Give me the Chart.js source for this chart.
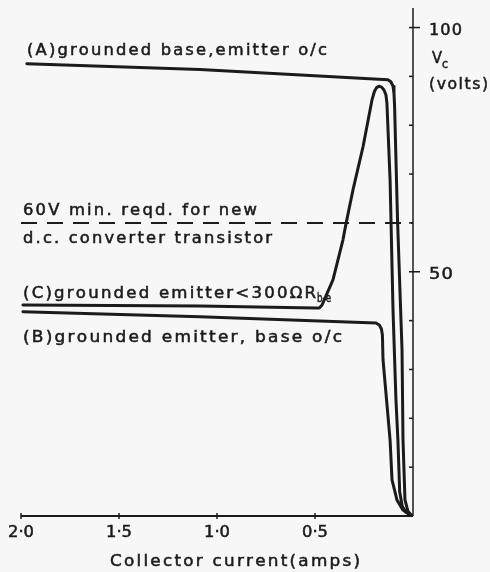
<!DOCTYPE html>
<html>
<head>
<meta charset="utf-8">
<script src="https://cdn.jsdelivr.net/npm/chart.js@4"></script>
<style>
  html, body { margin: 0; padding: 0; background: #f7f7f7; }
</style>
</head>
<body>
<canvas id="chart" width="490" height="572"></canvas>
<script>
// collector current (amps) vs collector voltage (volts)
const currentA = [1.97, 1.087, 0.128, 0.113, 0.102, 0.097, 0.094, 0.079, 0.056, 0.051, 0.041, 0.026, 0.012, 0];
const voltageA = [92.6, 91.4, 89.3, 88.9, 88.0, 86.5, 84.0, 60.7, 34.0, 15.6, 3.3, 1.0, 0.3, 0];

const currentB = [1.99, 1.087, 0.189, 0.172, 0.161, 0.156, 0.153, 0.117, 0.107, 0.082, 0.051, 0.015, 0];
const voltageB = [41.8, 40.8, 39.5, 39.1, 38.3, 37.0, 32.0, 15.6, 7.4, 3.3, 1.2, 0.2, 0];

const currentC = [1.99, 1.087, 0.5, 0.478, 0.464, 0.45, 0.408, 0.357, 0.342, 0.306, 0.255, 0.209, 0.197, 0.186,
  0.174, 0.16, 0.148, 0.138, 0.133, 0.117, 0.102, 0.087, 0.077, 0.068, 0.055, 0.036, 0.012, 0];
const voltageC = [43.2, 43.0, 42.6, 42.6, 43.2, 44.5, 48.4, 56.6, 59.8, 66.8, 75.6, 85.2, 86.9, 87.7,
  88.0, 87.8, 87.2, 86.2, 84.5, 68.9, 42.2, 23.8, 15.6, 5.0, 2.0, 0.8, 0.2, 0];

const minVoltage = 60; // dashed requirement line

const xTicks = [2.0, 1.5, 1.0, 0.5];
const xTickLabels = ["2·0", "1·5", "1·0", "0·5"];
const yMinorTicks = [10, 20, 30, 40, 50, 60, 70, 80, 90, 100];
const yLabelTicks = [100, 50];

const ink = "#1b1b1b";
const font = "DejaVu Sans";

function pts(xs, ys) {
  return xs.map((x, i) => ({ x: x, y: ys[i] }));
}

// letter-spaced text, squeezed or stretched to the given width
function fitText(ctx, text, x, y, width, gap) {
  const chars = [...text];
  const widths = chars.map((c) => ctx.measureText(c).width);
  const natural = widths.reduce((s, w) => s + w, 0) + gap * (chars.length - 1);
  ctx.save();
  ctx.translate(x, y);
  ctx.scale(width / natural, 1);
  let cx = 0;
  chars.forEach((c, i) => {
    ctx.fillText(c, cx, 0);
    ctx.strokeText(c, cx, 0);
    cx += widths[i] + gap;
  });
  ctx.restore();
}

const notes = [
  { text: "(A)grounded base,emitter o/c", x: 27, y: 55, w: 300 },
  { text: "60V min. reqd. for new", x: 23, y: 215, w: 234 },
  { text: "d.c. converter transistor", x: 23, y: 243, w: 249 },
  { text: "(C)grounded emitter<300ΩR", x: 23, y: 298, w: 293 },
  { text: "(B)grounded emitter, base o/c", x: 23, y: 342, w: 319 },
];

const axesPlugin = {
  id: "axesPlugin",
  afterDatasetsDraw(chart) {
    const ctx = chart.ctx;
    const xs = chart.scales.x;
    const ys = chart.scales.y;
    const x0 = xs.getPixelForValue(0);
    const y0 = ys.getPixelForValue(0);
    ctx.save();
    ctx.strokeStyle = ink;
    ctx.fillStyle = ink;

    // x axis
    ctx.lineWidth = 2;
    ctx.beginPath();
    ctx.moveTo(xs.getPixelForValue(2.0), y0);
    ctx.lineTo(x0, y0);
    ctx.stroke();
    ctx.lineWidth = 1.5;
    xTicks.forEach((v) => {
      const px = xs.getPixelForValue(v);
      ctx.beginPath();
      ctx.moveTo(px, y0 - 3);
      ctx.lineTo(px, y0 + 3);
      ctx.stroke();
    });

    // y axis on the right
    ctx.beginPath();
    ctx.moveTo(x0, y0);
    ctx.lineTo(x0, ys.getPixelForValue(ys.max));
    ctx.stroke();
    yMinorTicks.forEach((v) => {
      const py = ys.getPixelForValue(v);
      const major = yLabelTicks.includes(v);
      ctx.beginPath();
      ctx.moveTo(x0 - 4, py);
      ctx.lineTo(major ? x0 + 7 : x0, py);
      ctx.stroke();
    });

    ctx.textBaseline = "alphabetic";
    ctx.textAlign = "left";
    ctx.lineWidth = 0.5;
    ctx.font = "15px " + font;
    xTicks.forEach((v, i) => {
      fitText(ctx, xTickLabels[i], xs.getPixelForValue(v) - 13, 537, 26, 0);
    });
    fitText(ctx, "Collector current(amps)", 110, 566, 250, 2);

    yLabelTicks.forEach((v) => {
      const py = ys.getPixelForValue(v);
      fitText(ctx, String(v), x0 + 16, py + 7, v === 100 ? 33 : 24, 1);
    });
    fitText(ctx, "V", 432, 63, 10, 0);
    fitText(ctx, "(volts)", 429, 89, 59, 1.5);

    notes.forEach((n) => fitText(ctx, n.text, n.x, n.y, n.w, 2));

    ctx.font = "12px " + font;
    fitText(ctx, "c", 442, 68, 6, 0);
    fitText(ctx, "b-e", 317, 302, 14, 0);
    ctx.restore();
  },
};

const curveStyle = {
  borderColor: ink,
  borderWidth: 3,
  pointRadius: 0,
  fill: false,
  tension: 0,
  borderJoinStyle: "round",
  borderCapStyle: "round",
};

new Chart(document.getElementById("chart"), {
  type: "line",
  data: {
    datasets: [
      { label: "A", data: pts(currentA, voltageA), ...curveStyle },
      { label: "B", data: pts(currentB, voltageB), ...curveStyle },
      { label: "C", data: pts(currentC, voltageC), ...curveStyle },
      {
        label: "60V",
        data: pts([2.0, 0], [minVoltage, minVoltage]),
        borderColor: ink,
        borderWidth: 2,
        borderDash: [16, 10],
        pointRadius: 0,
        fill: false,
      },
    ],
  },
  options: {
    responsive: false,
    animation: false,
    devicePixelRatio: 1,
    layout: { padding: { left: 21, right: 77, top: 8, bottom: 56 } },
    plugins: { legend: { display: false }, tooltip: { enabled: false } },
    scales: {
      x: { type: "linear", reverse: true, min: 0, max: 2.0, display: false },
      y: { type: "linear", min: 0, max: 104, display: false },
    },
  },
  plugins: [axesPlugin],
});
</script>
</body>
</html>
